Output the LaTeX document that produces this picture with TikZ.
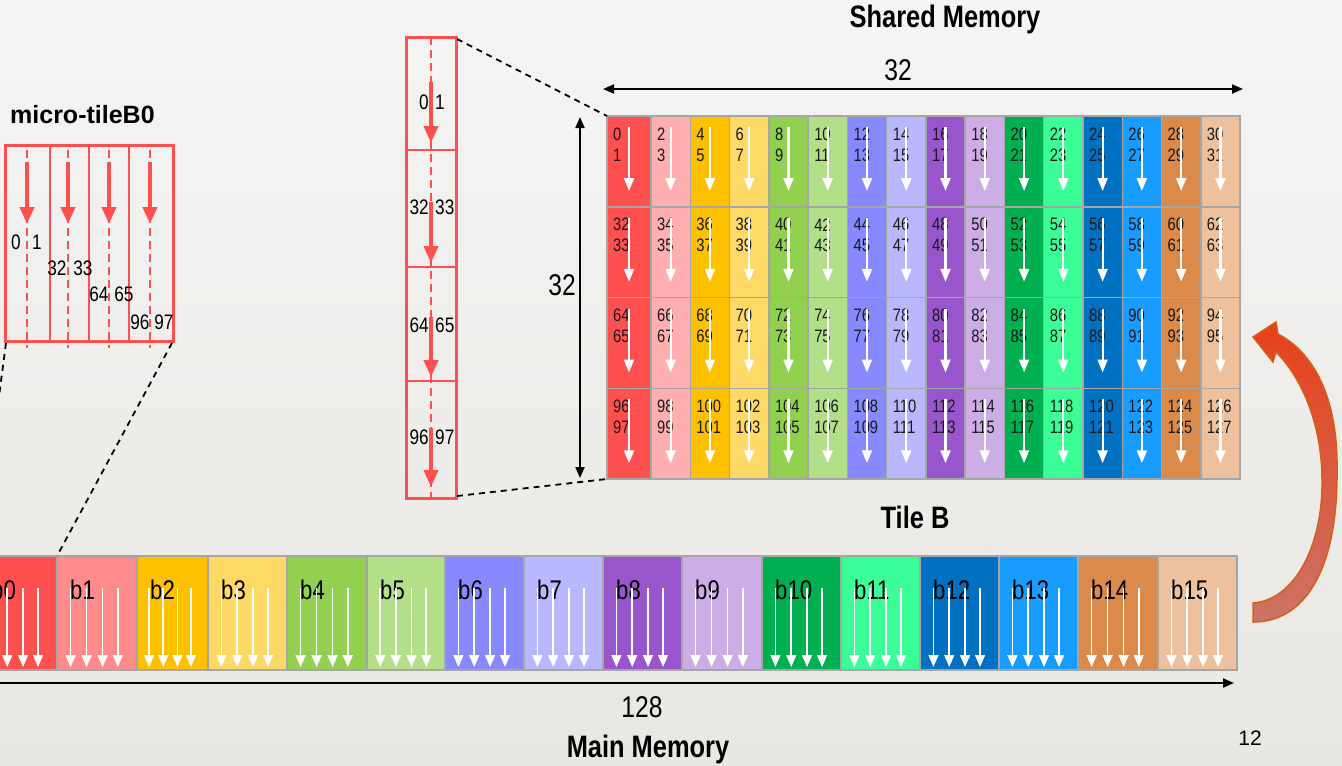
\documentclass[tikz,border=0pt]{standalone}
\usepackage{fontspec}
\setmainfont{Liberation Sans}
\newfontfamily\narrowsf[FakeStretch=0.82]{Liberation Sans}
\usetikzlibrary{arrows.meta, calc}

\definecolor{bgtop}{HTML}{F5F5F4}
\definecolor{bgbot}{HTML}{E9E7E3}
\definecolor{redline}{HTML}{FF5050}
\definecolor{gridgray}{HTML}{A6A6A6}
\definecolor{bigtop}{HTML}{E8401A}
\definecolor{bigbot}{HTML}{CC7466}
\definecolor{bigedge}{HTML}{D2601A}
% tile colours
\definecolor{ct0}{HTML}{FF5050}
\definecolor{ct1}{HTML}{FFAFAF}
\definecolor{ct2}{HTML}{FFC000}
\definecolor{ct3}{HTML}{FFD966}
\definecolor{ct4}{HTML}{92D050}
\definecolor{ct5}{HTML}{B3DF88}
\definecolor{ct6}{HTML}{8888FF}
\definecolor{ct7}{HTML}{B8B8FF}
\definecolor{ct8}{HTML}{9955CC}
\definecolor{ct9}{HTML}{CDADE6}
\definecolor{ct10}{HTML}{00B050}
\definecolor{ct11}{HTML}{3BFF96}
\definecolor{ct12}{HTML}{0070C0}
\definecolor{ct13}{HTML}{199CFF}
\definecolor{ct14}{HTML}{DA8A4A}
\definecolor{ct15}{HTML}{EEC19E}
% main memory colours
\colorlet{cm0}{ct0}   \definecolor{cm1}{HTML}{FF8B8B}
\colorlet{cm2}{ct2}   \colorlet{cm3}{ct3}   \colorlet{cm4}{ct4}
\colorlet{cm5}{ct5}   \colorlet{cm6}{ct6}   \colorlet{cm7}{ct7}
\colorlet{cm8}{ct8}   \colorlet{cm9}{ct9}   \colorlet{cm10}{ct10}
\colorlet{cm11}{ct11} \colorlet{cm12}{ct12} \colorlet{cm13}{ct13}
\colorlet{cm14}{ct14} \colorlet{cm15}{ct15}

\begin{document}
\begin{tikzpicture}[x=1pt, y=-1pt,
  cell/.style={draw=gridgray, line width=1.5pt},
  num/.style={font=\narrowsf\fontsize{18}{20}\selectfont, text=black!90, inner sep=0pt},
  mnum/.style={font=\narrowsf\fontsize{21}{24}\selectfont, inner sep=0pt},
  blabel/.style={font=\narrowsf\fontsize{27}{30}\selectfont, inner sep=0pt},
  title/.style={font=\narrowsf\bfseries\fontsize{31}{36}\selectfont, inner sep=0pt},
  dimtext/.style={font=\narrowsf\fontsize{30}{34}\selectfont, inner sep=0pt},
  tarrow/.style={white, line width=2.2pt, -{Triangle[length=13pt, width=10pt]}},
  marrow/.style={white, line width=1.6pt, -{Triangle[length=12pt, width=10pt]}},
  rarrow/.style={redline, line width=4pt, -{Triangle[length=17pt, width=14pt]}},
  redbox/.style={redline, line width=3pt},
  redsep/.style={redline, line width=1.5pt},
  reddash/.style={redline, line width=1.3pt, dash pattern=on 8pt off 5pt},
  zoomline/.style={black, line width=1.8pt, dash pattern=on 6pt off 5pt},
  dimarrow/.style={black, line width=2pt, {Triangle[length=11pt, width=9pt]}-{Triangle[length=11pt, width=9pt]}}]

  \useasboundingbox (0,0) rectangle (1342,766);
  \shade[top color=bgtop, bottom color=bgbot] (0,0) rectangle (1342,766);
  \clip (0,0) rectangle (1342,766);

  % main memory, b0..b15
  \foreach \xl/\xr [count=\i from 0] in {-22/57,57/137,137/208,208/287,287/367,367/445,
      445/524,524/603,603/682,682/762,762/841,841/920,920/999,999/1078,1078/1158,1158/1237}{
    \filldraw[cell, fill=cm\i] (\xl,556) rectangle (\xr,670);
    \node[blabel, anchor=west] (lb\i) at (\xl+13,590) {b\i};
    \foreach \f in {0.17,0.37,0.57,0.76}
      \draw[marrow] ({\xl+\f*(\xr-\xl)},588) -- ({\xl+\f*(\xr-\xl)},667);
  }
  \coordinate (mmL) at (-30,683);
  \coordinate (mmR) at (1234,683);
  \draw[black, line width=2pt, -{Triangle[length=11pt, width=9pt]}] (mmL) -- (mmR);
  \node[dimtext] (len128) at (642,707) {128};
  \node[title] (mainmem) at (648,749) {Main Memory};

  % tile B, 4 x 16 cells
  \foreach \r in {0,...,3}{
    \foreach \c in {0,...,15}{
      \pgfmathsetmacro\xl{ifthenelse(\c==0,607,651+39.27*(\c-1))}
      \pgfmathsetmacro\w{ifthenelse(\c==0,44,39.27)}
      \pgfmathsetmacro\yt{116+90.75*\r}
      \pgfmathtruncatemacro\na{32*\r+2*\c}
      \pgfmathtruncatemacro\nb{\na+1}
      \filldraw[cell, fill=ct\c] (\xl,\yt) rectangle ++(\w,90.75);
      \node[num, anchor=west] (t\na) at (\xl+6,\yt+18) {\na};
      \node[num, anchor=west] (t\nb) at (\xl+6,\yt+39) {\nb};
      \draw[tarrow] (\xl+\w/2,\yt+11) -- ++(0,64);
    }
  }
  \coordinate (tileTL) at (607,116);
  \coordinate (tileBL) at (607,479);
  \node[title] (tileB) at (915,517) {Tile B};
  \node[title] (shmem) at (945,19) {Shared Memory};

  % sizes of the tile
  \coordinate (hL) at (603,89);
  \coordinate (hR) at (1243,89);
  \draw[dimarrow] (hL) -- (hR);
  \node[dimtext] (wid32) at (898,70) {32};
  \coordinate (vT) at (580,117);
  \coordinate (vB) at (580,478);
  \draw[dimarrow] (vT) -- (vB);
  \node[dimtext] (hgt32) at (562,285) {32};

  % one column of the tile
  \draw[reddash] (431,37) -- (431,498);
  \foreach \y in {150,267,381} \draw[redsep] (406,\y) -- (456,\y);
  \draw[redbox] (406,37) rectangle (456,498);
  \foreach \na/\nb/\y in {0/1/102, 32/33/207, 64/65/325, 96/97/437}{
    \node[mnum, anchor=east] (c\na) at (429,\y) {\na};
    \node[mnum, anchor=west] (c\nb) at (435,\y) {\nb};
  }
  \foreach \ya/\yb in {82/143, 202/263, 317/377, 428/487}
    \draw[rarrow] (431,\ya) -- (431,\yb);
  \coordinate (colTR) at (457,39);
  \coordinate (colBR) at (457,496);
  \draw[zoomline] (colTR) -- (tileTL);
  \draw[zoomline] (colBR) -- (tileBL);

  % micro-tile B0
  \node[font=\bfseries\fontsize{25}{28}\selectfont, inner sep=0pt, anchor=west] (mtlabel) at (10,115) {micro-tileB0};
  \foreach \x in {27,68,109,150} \draw[reddash] (\x,150) -- (\x,348);
  \foreach \x in {50,89,129} \draw[redsep] (\x,145) -- (\x,341);
  \draw[redbox] (5,145) rectangle (173,341);
  \foreach \x in {27,68,109,150} \draw[rarrow] (\x,162) -- (\x,224);
  \foreach \na/\nb/\xa/\xb/\y in {0/1/16/37/242, 32/33/57/83/268, 64/65/99/124/294, 96/97/140/164/322}{
    \node[mnum] (m\na) at (\xa,\y) {\na};
    \node[mnum] (m\nb) at (\xb,\y) {\nb};
  }
  \coordinate (mtBL) at (6,343);
  \coordinate (mtBR) at (172,343);
  \coordinate (b0TL) at (-22,556);
  \coordinate (b0TR) at (57,556);
  \draw[zoomline] (mtBL) -- (b0TL);
  \draw[zoomline] (mtBR) -- (b0TR);

  % curved arrow from main memory up to the tile
  \path[draw=bigedge, line width=1.5pt, top color=bigtop, bottom color=bigbot]
    (1253,337) -- (1276,322) -- (1278,334)
    .. controls (1318,355) and (1338,405) .. (1337,470)
    .. controls (1338,560) and (1310,622) .. (1253,622)
    -- (1253,603)
    .. controls (1295,600) and (1323,545) .. (1322,480)
    .. controls (1322,425) and (1302,378) .. (1276,352)
    -- (1273,362) -- cycle;

  \node[font=\fontsize{21}{24}\selectfont, inner sep=0pt] (pageno) at (1250,738) {12};
\end{tikzpicture}
\end{document}
